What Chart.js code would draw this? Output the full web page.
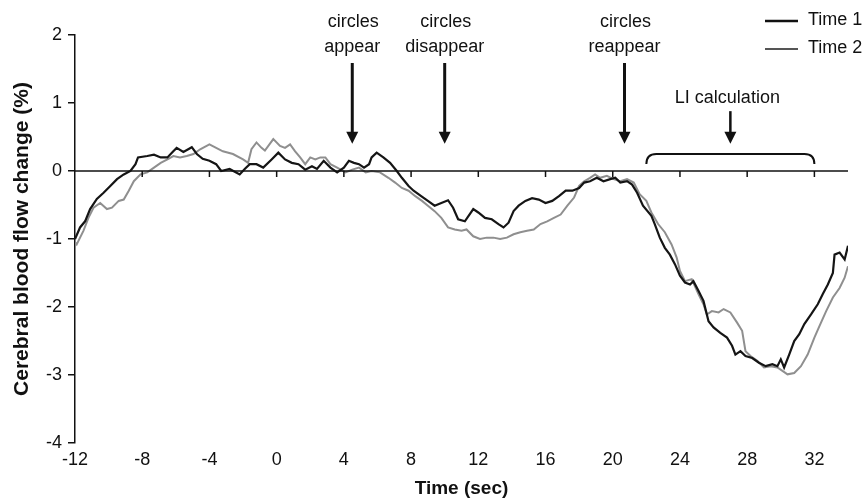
<!DOCTYPE html>
<html>
<head>
<meta charset="utf-8">
<script src="https://cdn.jsdelivr.net/npm/chart.js"></script>
<style>
  body { margin: 0; padding: 0; background: #fff; }
  canvas { display: block; }
</style>
</head>
<body>
<canvas id="cbfChart" width="863" height="498"></canvas>
<script>
// time axis (sec) and blood flow change (%)
const t1 = [-12.0,-11.7,-11.4,-11.1,-10.7,-10.3,-9.9,-9.5,-9.1,-8.7,-8.4,-8.25,-7.7,-7.3,-6.9,-6.5,-6.15,-5.95,-5.55,-5.05,
  -4.75,-4.4,-4.0,-3.6,-3.3,-2.8,-2.2,-1.9,-1.6,-1.2,-0.8,-0.3,0.1,0.5,0.9,1.3,1.7,2.1,2.4,2.8,
  3.2,3.6,4.0,4.3,4.6,4.9,5.2,5.5,5.65,5.95,6.35,6.75,7.15,7.45,7.85,8.15,8.6,9.0,9.4,9.8,
  10.2,10.5,10.8,11.2,11.7,12.0,12.4,12.8,13.2,13.5,13.8,14.1,14.4,14.8,15.2,15.6,16.0,16.4,16.8,17.2,
  17.6,18.0,18.3,18.65,19.05,19.45,19.85,20.15,20.45,20.85,21.15,21.45,21.8,22.3,22.5,22.8,23.1,23.4,23.7,24.0,
  24.3,24.6,24.8,25.1,25.4,25.7,26.0,26.4,26.8,27.1,27.3,27.6,27.9,28.3,28.7,29.1,29.5,29.8,30.0,30.2,
  30.5,30.8,31.1,31.4,31.8,32.2,32.5,32.8,33.1,33.2,33.5,33.8,34.0];
const flow1 = [-1.00,-0.83,-0.74,-0.56,-0.41,-0.32,-0.22,-0.12,-0.05,0.00,0.10,0.20,0.22,0.24,0.20,0.20,0.29,0.34,0.28,0.35,
  0.25,0.18,0.15,0.10,0.00,0.03,-0.05,0.03,0.10,0.10,0.05,0.17,0.27,0.17,0.12,0.10,0.02,0.07,0.03,0.15,
  0.05,-0.02,0.05,0.15,0.12,0.10,0.05,0.10,0.20,0.27,0.20,0.12,0.00,-0.10,-0.22,-0.29,-0.37,-0.44,-0.51,-0.47,
  -0.43,-0.54,-0.71,-0.74,-0.56,-0.61,-0.69,-0.71,-0.78,-0.83,-0.76,-0.59,-0.51,-0.44,-0.40,-0.42,-0.47,-0.44,-0.37,-0.29,
  -0.29,-0.25,-0.17,-0.15,-0.10,-0.15,-0.12,-0.10,-0.17,-0.15,-0.20,-0.32,-0.51,-0.66,-0.78,-0.98,-1.13,-1.23,-1.37,-1.54,
  -1.64,-1.67,-1.62,-1.76,-1.91,-2.21,-2.30,-2.38,-2.45,-2.57,-2.70,-2.65,-2.72,-2.75,-2.82,-2.87,-2.84,-2.87,-2.77,-2.89,
  -2.70,-2.50,-2.40,-2.25,-2.11,-1.96,-1.81,-1.67,-1.50,-1.23,-1.20,-1.30,-1.10];

const t2 = [-12.0,-11.9,-11.5,-11.2,-10.9,-10.5,-10.1,-9.8,-9.4,-9.1,-8.8,-8.5,-8.1,-7.7,-7.3,-6.9,-6.5,-6.15,-5.75,-5.35,
  -4.95,-4.55,-4.0,-3.6,-3.2,-2.6,-2.0,-1.7,-1.5,-1.2,-0.9,-0.7,-0.2,0.2,0.5,0.8,1.1,1.4,1.7,2.0,
  2.3,2.6,2.9,3.2,3.6,4.1,4.5,4.9,5.3,5.65,6.15,6.65,7.05,7.45,7.85,8.25,8.65,9.0,9.4,9.8,
  10.2,10.6,11.0,11.3,11.7,12.1,12.5,12.9,13.3,13.7,14.1,14.5,14.9,15.3,15.7,16.1,16.5,16.9,17.3,17.7,
  18.0,18.3,18.65,18.95,19.25,19.65,20.05,20.45,20.85,21.25,21.6,22.0,22.3,22.7,23.1,23.5,23.8,24.0,24.3,24.7,
  25.1,25.4,25.6,25.9,26.3,26.6,27.0,27.4,27.7,27.9,28.2,28.6,29.0,29.4,29.8,30.1,30.4,30.8,31.2,31.6,
  32.0,32.3,32.7,33.1,33.5,33.8,34.0];
const flow2 = [-1.05,-1.08,-0.88,-0.69,-0.54,-0.47,-0.56,-0.54,-0.44,-0.42,-0.29,-0.15,-0.05,-0.02,0.05,0.12,0.17,0.22,0.20,0.22,
  0.25,0.32,0.39,0.34,0.29,0.25,0.17,0.12,0.32,0.42,0.34,0.30,0.47,0.37,0.34,0.39,0.29,0.20,0.10,0.20,
  0.17,0.20,0.20,0.10,0.05,-0.02,0.02,0.05,-0.02,0.00,-0.02,-0.10,-0.17,-0.25,-0.29,-0.37,-0.44,-0.51,-0.59,-0.69,
  -0.83,-0.86,-0.88,-0.86,-0.96,-1.00,-0.98,-0.98,-1.00,-0.98,-0.93,-0.90,-0.88,-0.86,-0.78,-0.74,-0.69,-0.64,-0.51,-0.39,
  -0.22,-0.15,-0.10,-0.05,-0.10,-0.07,-0.12,-0.15,-0.12,-0.17,-0.34,-0.44,-0.61,-0.78,-0.90,-1.08,-1.27,-1.47,-1.62,-1.59,
  -1.81,-1.96,-2.11,-2.06,-2.08,-2.03,-2.08,-2.23,-2.35,-2.65,-2.72,-2.79,-2.89,-2.87,-2.89,-2.94,-2.99,-2.97,-2.87,-2.70,
  -2.45,-2.28,-2.06,-1.86,-1.72,-1.57,-1.40];

const xTicks = [-12, -8, -4, 0, 4, 8, 12, 16, 20, 24, 28, 32];
const yTicks = [-4, -3, -2, -1, 0, 1, 2];

// event markers
const eventTimes = [4.5, 10, 20.7];
const eventLabels = [['circles', 'appear'], ['circles', 'disappear'], ['circles', 'reappear']];
const liRange = [22, 32];
const liLabel = 'LI calculation';

const FONT = "'Liberation Sans', Arial, sans-serif";
const INK = '#111';

function toPoints(xs, ys) {
  return xs.map((x, i) => ({ x: x, y: ys[i] }));
}

function arrowDown(ctx, x, y0, y1) {
  ctx.beginPath();
  ctx.moveTo(x, y0);
  ctx.lineTo(x, y1 - 10);
  ctx.stroke();
  ctx.beginPath();
  ctx.moveTo(x - 6, y1 - 12);
  ctx.lineTo(x + 6, y1 - 12);
  ctx.lineTo(x, y1);
  ctx.closePath();
  ctx.fill();
}

const annotations = {
  id: 'annotations',
  afterDatasetsDraw(chart) {
    const ctx = chart.ctx;
    const xs = chart.scales.x, ys = chart.scales.y;
    const zeroY = ys.getPixelForValue(0);
    ctx.save();
    ctx.strokeStyle = INK;
    ctx.fillStyle = INK;

    // zero line with its small ticks
    ctx.lineWidth = 1.5;
    ctx.beginPath();
    ctx.moveTo(xs.left, zeroY);
    ctx.lineTo(xs.right, zeroY);
    ctx.stroke();
    xTicks.forEach(v => {
      if (v === xTicks[0]) return;
      const px = xs.getPixelForValue(v);
      ctx.beginPath();
      ctx.moveTo(px, zeroY);
      ctx.lineTo(px, zeroY + 6);
      ctx.stroke();
    });

    // event arrows + labels
    const top = ys.top;
    const tip = ys.getPixelForValue(0.4);
    ctx.font = '18px ' + FONT;
    ctx.textAlign = 'center';
    ctx.textBaseline = 'middle';
    eventTimes.forEach((t, i) => {
      const px = xs.getPixelForValue(t);
      ctx.fillText(eventLabels[i][0], px + 1, top - 13);
      ctx.fillText(eventLabels[i][1], px, top + 12);
      ctx.lineWidth = 3;
      arrowDown(ctx, px, top + 28, tip);
    });

    // LI calculation bracket
    const bx0 = xs.getPixelForValue(liRange[0]);
    const bx1 = xs.getPixelForValue(liRange[1]);
    const by = ys.getPixelForValue(0.25);
    const r = 10;
    ctx.lineWidth = 2;
    ctx.beginPath();
    ctx.moveTo(bx0, by + r);
    ctx.quadraticCurveTo(bx0, by, bx0 + r, by);
    ctx.lineTo(bx1 - r, by);
    ctx.quadraticCurveTo(bx1, by, bx1, by + r);
    ctx.stroke();
    const mid = (bx0 + bx1) / 2;
    ctx.fillText(liLabel, mid - 3, ys.getPixelForValue(1.07));
    ctx.lineWidth = 2.5;
    arrowDown(ctx, mid, ys.getPixelForValue(0.88), tip);

    // legend
    ctx.textAlign = 'left';
    chart.data.datasets.forEach((ds, i) => {
      const ly = 21 + i * 28;
      ctx.strokeStyle = i === 0 ? INK : '#555';
      ctx.lineWidth = i === 0 ? 2.5 : 1.8;
      ctx.beginPath();
      ctx.moveTo(765, ly);
      ctx.lineTo(798, ly);
      ctx.stroke();
      ctx.fillStyle = INK;
      ctx.fillText(ds.label, 808, ly - 1);
    });
    ctx.restore();
  }
};

new Chart(document.getElementById('cbfChart'), {
  type: 'line',
  data: {
    datasets: [
      { label: 'Time 1', data: toPoints(t1, flow1), borderColor: '#151515', borderWidth: 2.2, pointRadius: 0, tension: 0 },
      { label: 'Time 2', data: toPoints(t2, flow2), borderColor: '#8f8f8f', borderWidth: 2, pointRadius: 0, tension: 0 }
    ]
  },
  options: {
    responsive: false,
    animation: false,
    layout: { padding: { left: 0, right: 15, top: 35, bottom: 0 } },
    plugins: { legend: { display: false }, tooltip: { enabled: false } },
    scales: {
      x: {
        type: 'linear',
        min: -12,
        max: 34,
        afterBuildTicks: s => { s.ticks = xTicks.map(v => ({ value: v })); },
        afterFit: s => { s.height = 55; },
        grid: { display: false, drawTicks: false },
        border: { display: false },
        ticks: { padding: 6, color: INK, autoSkip: false, maxRotation: 0, font: { family: FONT, size: 18 } },
        title: {
          display: true, text: 'Time (sec)', color: INK,
          font: { family: FONT, size: 19, weight: 'bold', lineHeight: 1 },
          padding: { top: 0, bottom: 0 }
        }
      },
      y: {
        min: -4,
        max: 2,
        afterBuildTicks: s => { s.ticks = yTicks.map(v => ({ value: v })); },
        afterFit: s => { s.width = 75; },
        grid: { drawOnChartArea: false, tickLength: 7, color: INK, lineWidth: 1.5 },
        border: { display: true, color: INK, width: 1.5 },
        ticks: { padding: 6, color: INK, font: { family: FONT, size: 18 } },
        title: {
          display: true, text: 'Cerebral blood flow change (%)', color: INK,
          font: { family: FONT, size: 21, weight: 'bold', lineHeight: 1 },
          padding: { top: 12, bottom: 0 }
        }
      }
    }
  },
  plugins: [annotations]
});
</script>
</body>
</html>
